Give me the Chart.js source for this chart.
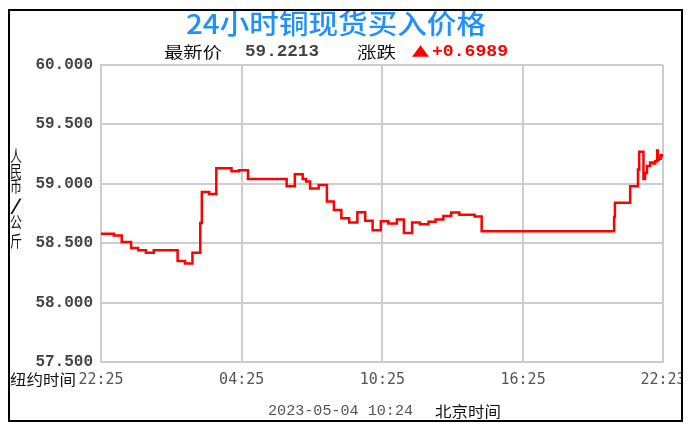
<!DOCTYPE html>
<html><head><meta charset="utf-8">
<script src="https://cdn.jsdelivr.net/npm/chart.js@4"></script>
<style>html,body{margin:0;padding:0;background:#fff;overflow:hidden}</style>
</head><body>
<canvas id="c" width="692" height="429"></canvas>
<script>
const titleText = '24小时铜现货买入价格';
const latestLabel = '最新价';
const latestPrice = '59.2213';
const changeLabel = '涨跌';
const changeValue = '+0.6989';
const yAxisLabel = '人民币/公斤';
const nyLabel = '纽约时间';
const bjTimestamp = '2023-05-04 10:24';
const bjLabel = '北京时间';

const tickMinutes = [0, 360, 720, 1080, 1438];
const tickLabels = ['22:25', '04:25', '10:25', '16:25', '22:23'];

// minutes after 22:25 (New York time) at which the price changes
const minutes = [0,33,53,77,95,115,135,196,215,234,254,258,277,295,334,353,376,475,496,516,525,535,557,578,596,615,635,656,676,695,716,735,757,775,796,816,838,856,876,896,917,956,974,1313,1315,1354,1374,1377,1388,1392,1397,1405,1413,1418,1423,1425,1427,1432,1438];
const prices = [58.58,58.565,58.51,58.46,58.44,58.42,58.44,58.35,58.33,58.42,58.67,58.93,58.915,59.13,59.105,59.115,59.04,58.98,59.08,59.04,59.02,58.96,58.99,58.85,58.78,58.71,58.675,58.76,58.69,58.61,58.685,58.665,58.70,58.585,58.674,58.66,58.68,58.70,58.73,58.758,58.74,58.725,58.60,58.72,58.84,58.98,59.12,59.27,59.04,59.09,59.15,59.18,59.17,59.19,59.28,59.20,59.21,59.24,59.2213];

function drawFit(ctx, text, x, y, w, font, color) {
  ctx.save();
  ctx.font = font;
  ctx.fillStyle = color;
  ctx.textBaseline = 'middle';
  ctx.textAlign = 'left';
  const mw = ctx.measureText(text).width;
  ctx.translate(x, y);
  ctx.scale(w / mw, 1);
  ctx.fillText(text, 0, 0);
  ctx.restore();
}

const decor = {
  id: 'decor',
  afterDraw(chart) {
    const ctx = chart.ctx;
    const cjk = '"Noto Sans CJK SC", sans-serif';
    const mono = '"Liberation Mono", "DejaVu Sans Mono", monospace';
    drawFit(ctx, titleText, 186, 24, 300, '500 27px ' + cjk, '#1e90ff');
    drawFit(ctx, latestLabel, 164, 52, 58, '16px ' + cjk, '#111');
    drawFit(ctx, latestPrice, 245, 52, 74, 'bold 16px ' + mono, '#444');
    drawFit(ctx, changeLabel, 357, 52, 39, '16px ' + cjk, '#111');
    drawFit(ctx, '▲', 412, 51, 17, '15px "DejaVu Sans", sans-serif', '#ff0000');
    drawFit(ctx, changeValue, 432, 52, 76, 'bold 16px ' + mono, '#ff0000');
    // vertical stacked y-axis label
    const chars = Array.from(yAxisLabel);
    const ys = [156, 171, 186, 205, 222, 241];
    chars.forEach((ch, i) => drawFit(ctx, ch, 10, ys[i], 12, '16px ' + cjk, '#111'));
    // bottom texts
    ctx.fillStyle = '#fff';
    ctx.fillRect(9, 368, 70, 22);
    drawFit(ctx, nyLabel, 10, 379, 66, '15px ' + cjk, '#111');
    drawFit(ctx, bjTimestamp, 268, 411, 145, '15px ' + mono, '#555');
    drawFit(ctx, bjLabel, 435, 411, 66, '15px ' + cjk, '#111');
    // outer frame and clipping
    ctx.save();
    ctx.fillStyle = '#fff';
    ctx.fillRect(683, 0, 9, 429);
    ctx.fillRect(0, 422, 692, 7);
    ctx.strokeStyle = '#000';
    ctx.lineWidth = 2;
    ctx.strokeRect(9, 10, 673, 411);
    ctx.restore();
  }
};

new Chart(document.getElementById('c'), {
  type: 'line',
  data: {
    datasets: [{
      data: minutes.map((m, i) => ({x: m, y: prices[i]})),
      borderColor: '#ff0000',
      borderWidth: 2.5,
      stepped: true,
      pointRadius: 0,
      fill: false
    }]
  },
  options: {
    responsive: false,
    animation: false,
    layout: {padding: {left: 0, top: 65, right: 29, bottom: 0}},
    plugins: {legend: {display: false}, tooltip: {enabled: false}, title: {display: false}},
    scales: {
      x: {
        type: 'linear', min: 0, max: 1438,
        afterBuildTicks: s => { s.ticks = tickMinutes.map(v => ({value: v})); },
        afterFit: s => { s.height = 67; s.paddingLeft = 0; s.paddingRight = 0; },
        ticks: {
          callback: v => tickLabels[tickMinutes.indexOf(v)],
          font: {family: '"DejaVu Sans Mono", monospace', size: 15},
          color: '#555', padding: 9, maxRotation: 0, autoSkip: false
        },
        grid: {color: '#cdcdcd', lineWidth: 2, drawTicks: false},
        border: {color: '#cdcdcd', width: 2}
      },
      y: {
        min: 57.5, max: 60,
        afterFit: s => { s.width = 101; s.paddingTop = 0; s.paddingBottom = 0; },
        ticks: {
          stepSize: 0.5,
          callback: v => v.toFixed(3),
          font: {family: '"Liberation Mono", "DejaVu Sans Mono", monospace', size: 16, weight: 'bold'},
          color: '#444', padding: 8
        },
        grid: {color: '#cdcdcd', lineWidth: 2, drawTicks: false},
        border: {color: '#cdcdcd', width: 2}
      }
    }
  },
  plugins: [decor]
});
</script>
</body></html>
